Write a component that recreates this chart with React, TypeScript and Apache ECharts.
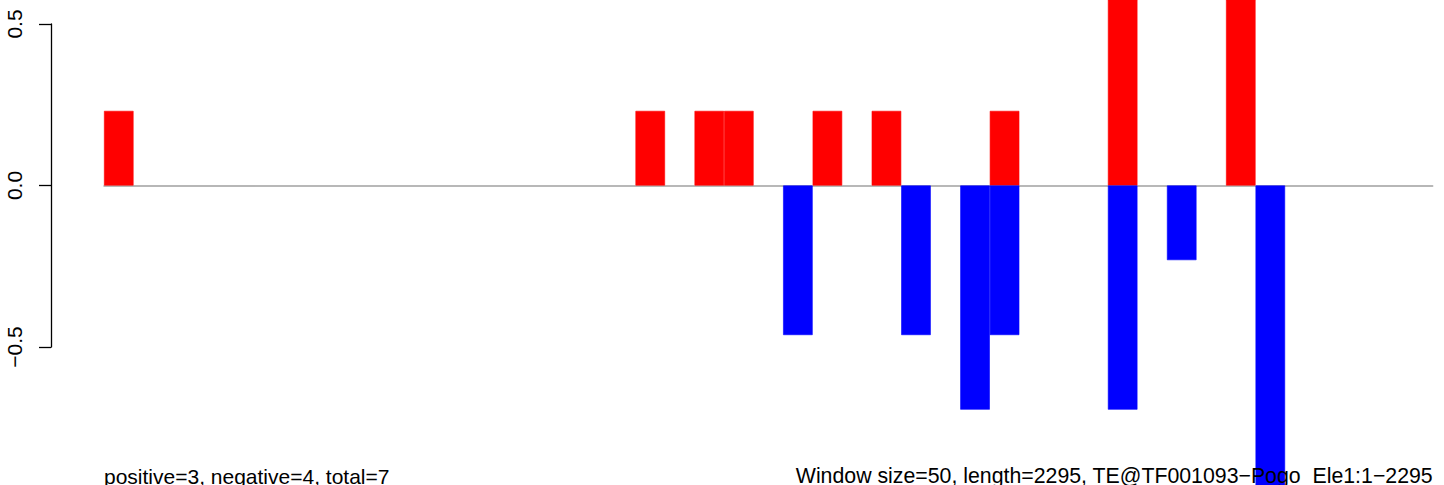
import React, { useEffect, useRef } from "react";
import * as echarts from "echarts";

const N = null;

// 45 windows of 50 bp over a 2295 bp element
const windows: string[] = Array.from({ length: 45 }, (_, i) => String(i + 1));

const positiveScores: (number | null)[] = [
  0.231, N, N, N, N, N, N, N, N, N,
  N, N, N, N, N, N, N, N, 0.231, N,
  0.231, 0.231, N, N, 0.231, N, 0.231, N, N, N,
  0.231, N, N, N, 0.694, N, N, N, 0.694, N,
  N, N, N, N, N,
];

const negativeScores: (number | null)[] = [
  N, N, N, N, N, N, N, N, N, N,
  N, N, N, N, N, N, N, N, N, N,
  N, N, N, -0.463, N, N, N, -0.463, N, -0.694,
  -0.463, N, N, N, -0.694, N, -0.231, N, N, -0.93,
  N, N, N, N, N,
];

const yTickValues = [-0.5, 0, 0.5];
const leftNote = "positive=3, negative=4, total=7";
const rightNote = "Window size=50, length=2295, TE@TF001093\u2212Pogo_Ele1:1\u22122295";

const FONT = "'Liberation Sans', Arial, Helvetica, sans-serif";

export default function App() {
  const ref = useRef<HTMLDivElement>(null);

  useEffect(() => {
    if (!ref.current) return;
    const chart = echarts.init(ref.current, undefined, { renderer: "svg" });
    chart.setOption({
      animation: false,
      backgroundColor: "#ffffff",
      grid: [
        { left: 104, top: 0, width: 1328.7, height: 485, containLabel: false },
        { left: 51, top: 24, width: 10, height: 323, containLabel: false },
      ],
      xAxis: [
        {
          type: "category",
          gridIndex: 0,
          data: windows,
          boundaryGap: true,
          axisLine: { show: true, onZero: true, lineStyle: { color: "#a0a0a0", width: 1.5 } },
          axisTick: { show: false },
          axisLabel: { show: false },
          splitLine: { show: false },
        },
        {
          type: "value",
          gridIndex: 1,
          show: false,
        },
      ],
      yAxis: [
        {
          type: "value",
          gridIndex: 0,
          min: -0.9272,
          max: 0.5743,
          show: false,
          splitLine: { show: false },
        },
        {
          type: "value",
          gridIndex: 1,
          min: -0.5,
          max: 0.5,
          interval: 0.5,
          position: "left",
          axisLine: { show: true, lineStyle: { color: "#000", width: 1.3 } },
          axisTick: { show: true, length: 12, lineStyle: { color: "#000", width: 1.3 }, customValues: yTickValues },
          axisLabel: {
            show: true,
            rotate: 90,
            margin: 26,
            fontSize: 21,
            color: "#000",
            fontFamily: FONT,
            customValues: yTickValues,
            formatter: (v: number) => v.toFixed(1).replace("-", "\u2212"),
          },
          splitLine: { show: false },
        },
      ],
      series: [
        {
          type: "bar",
          xAxisIndex: 0,
          yAxisIndex: 0,
          data: positiveScores,
          itemStyle: { color: "#ff0000", borderColor: "#ff0000", borderWidth: 0.6 },
          barCategoryGap: "0%",
          barGap: "-100%",
          clip: true,
        },
        {
          type: "bar",
          xAxisIndex: 0,
          yAxisIndex: 0,
          data: negativeScores,
          itemStyle: { color: "#0000ff", borderColor: "#0000ff", borderWidth: 0.6 },
          barCategoryGap: "0%",
          barGap: "-100%",
          clip: true,
        },
      ],
      graphic: [
        {
          type: "text",
          z: 100,
          x: 104,
          y: 476,
          style: {
            text: leftNote,
            fontSize: 21,
            fontFamily: FONT,
            fill: "#000",
            textAlign: "left",
            textVerticalAlign: "middle",
          },
        },
        {
          type: "text",
          z: 100,
          x: 1432.7,
          y: 476,
          style: {
            text: rightNote,
            fontSize: 21.3,
            fontFamily: FONT,
            fill: "#000",
            textAlign: "right",
            textVerticalAlign: "middle",
          },
        },
      ],
    });
    return () => chart.dispose();
  }, []);

  return (
    <div
      ref={ref}
      style={{ position: "absolute", left: 0, top: 0, width: 1444, height: 485 }}
    />
  );
}
